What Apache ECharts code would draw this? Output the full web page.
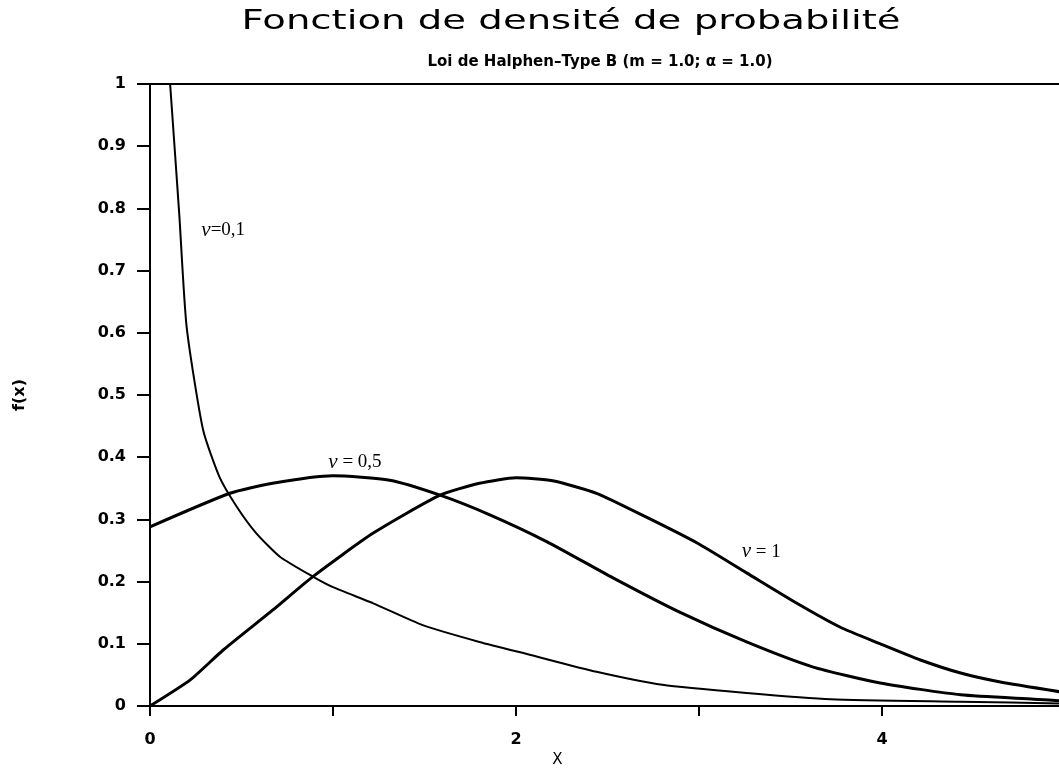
<!DOCTYPE html>
<html>
<head>
<meta charset="utf-8">
<script src="https://cdn.jsdelivr.net/npm/echarts@6/dist/echarts.min.js"></script>
<style>html,body{margin:0;padding:0;background:#fff}#c{width:1059px;height:770px}</style>
</head>
<body>
<div id="c"></div>
<script>
// ---- data ----
const titleText = 'Fonction de densité de probabilité';
const subtitleText = 'Loi de Halphen–Type B (m = 1.0; α = 1.0)';
const xTicks = [0, 1, 2, 3, 4, 5];
const xLabelled = [0, 2, 4];

const nu01X = [0.11, 0.16, 0.20, 0.29, 0.38, 0.475, 0.58, 0.71, 0.89, 1.0, 1.22, 1.49, 1.80, 2.08, 2.44, 2.80, 3.26, 3.72, 4.43, 5.0];
const nu01Y = [1.0, 0.79, 0.61, 0.444, 0.368, 0.32, 0.278, 0.24, 0.208, 0.191, 0.165, 0.13, 0.103, 0.082, 0.055, 0.034, 0.021, 0.011, 0.007, 0.004];

const nu05X = [0, 0.437, 0.67, 1.0, 1.31, 1.585, 1.86, 2.17, 2.53, 2.90, 3.26, 3.62, 3.99, 4.43, 4.83, 5.0];
const nu05Y = [0.288, 0.342, 0.358, 0.370, 0.363, 0.339, 0.307, 0.264, 0.206, 0.150, 0.103, 0.063, 0.037, 0.018, 0.011, 0.008];

const nu1X = [0, 0.22, 0.40, 0.67, 0.89, 1.22, 1.585, 1.80, 2.0, 2.20, 2.44, 2.71, 2.99, 3.26, 3.53, 3.77, 3.99, 4.21, 4.43, 4.64, 4.97];
const nu1Y = [0, 0.042, 0.090, 0.154, 0.208, 0.278, 0.339, 0.358, 0.367, 0.362, 0.342, 0.304, 0.262, 0.214, 0.166, 0.127, 0.100, 0.074, 0.053, 0.039, 0.023];

const curveNames = ['ν=0,1', 'ν = 0,5', 'ν = 1'];
const labelAnchors = [[0.40, 0.765], [1.12, 0.392], [3.34, 0.248]];

const zip = (xs, ys) => xs.map((x, i) => [x, ys[i]]);

const chart = echarts.init(document.getElementById('c'), null, {renderer: 'canvas'});

function curveLabel(idx) {
  const parts = curveNames[idx].split('ν');
  return {
    symbol: 'circle', symbolSize: 0, silent: true,
    label: {
      show: true, position: 'inside',
      formatter: '{g|ν}{n|' + parts[1] + '}',
      rich: {
        g: {fontFamily: 'Liberation Serif', fontStyle: 'italic', fontSize: 21, color: '#000'},
        n: {fontFamily: 'Liberation Serif', fontSize: 19, color: '#000'}
      }
    },
    data: [{coord: labelAnchors[idx]}]
  };
}

function lineSeries(name, data, width, idx) {
  return {
    name: name, type: 'line', data: data, showSymbol: false, symbol: 'none',
    smooth: 0.2, clip: true,
    lineStyle: {color: '#000', width: width},
    markPoint: curveLabel(idx),
    z: 3
  };
}

const boldFont = 'DejaVu Sans';

chart.setOption({
  animation: false,
  backgroundColor: '#fff',
  graphic: [
    {type: 'text', x: 571, y: 22, scaleX: 1.43, scaleY: 1,
     style: {text: titleText, font: 'normal 27px "DejaVu Sans"', fill: '#000', textAlign: 'center', verticalAlign: 'middle', textVerticalAlign: 'middle'}},
    {type: 'text', x: 600, y: 62,
     style: {text: subtitleText, font: 'bold 15px "DejaVu Sans"', fill: '#000', textAlign: 'center', verticalAlign: 'middle', textVerticalAlign: 'middle'}}
  ],
  grid: {left: 150, top: 84, width: 915, height: 622, show: true, borderColor: '#000', borderWidth: 2,
         backgroundColor: 'transparent', outerBoundsMode: 'none', containLabel: false},
  xAxis: {
    type: 'value', min: xTicks[0], max: xTicks[xTicks.length - 1], interval: 1,
    name: 'X', nameLocation: 'middle', nameGap: 46,
    nameTextStyle: {fontFamily: 'DejaVu Sans', fontSize: 15, color: '#000', padding: [0, 100, 0, 0]},
    axisLine: {show: true, onZero: false, lineStyle: {color: '#000', width: 2}},
    axisTick: {show: true, inside: false, length: 10, lineStyle: {color: '#000', width: 2}},
    axisLabel: {
      margin: 26, color: '#000', fontFamily: boldFont, fontWeight: 'bold', fontSize: 16,
      formatter: v => (xLabelled.indexOf(Math.round(v)) >= 0 ? String(Math.round(v)) : '')
    },
    splitLine: {show: false}
  },
  yAxis: {
    type: 'value', min: 0, max: 1, interval: 0.1,
    name: 'f(x)', nameLocation: 'middle', nameGap: 122, nameRotate: 90,
    nameTextStyle: {fontFamily: boldFont, fontWeight: 'bold', fontSize: 16, color: '#000'},
    axisLine: {show: true, onZero: false, lineStyle: {color: '#000', width: 2}},
    axisTick: {show: true, inside: false, length: 13, lineStyle: {color: '#000', width: 2}},
    axisLabel: {margin: 24, color: '#000', fontFamily: boldFont, fontWeight: 'bold', fontSize: 16},
    splitLine: {show: false}
  },
  series: [
    lineSeries('ν=0,1', zip(nu01X, nu01Y), 2, 0),
    lineSeries('ν=0,5', zip(nu05X, nu05Y), 3, 1),
    lineSeries('ν=1', zip(nu1X, nu1Y), 3, 2)
  ]
});
</script>
</body>
</html>
